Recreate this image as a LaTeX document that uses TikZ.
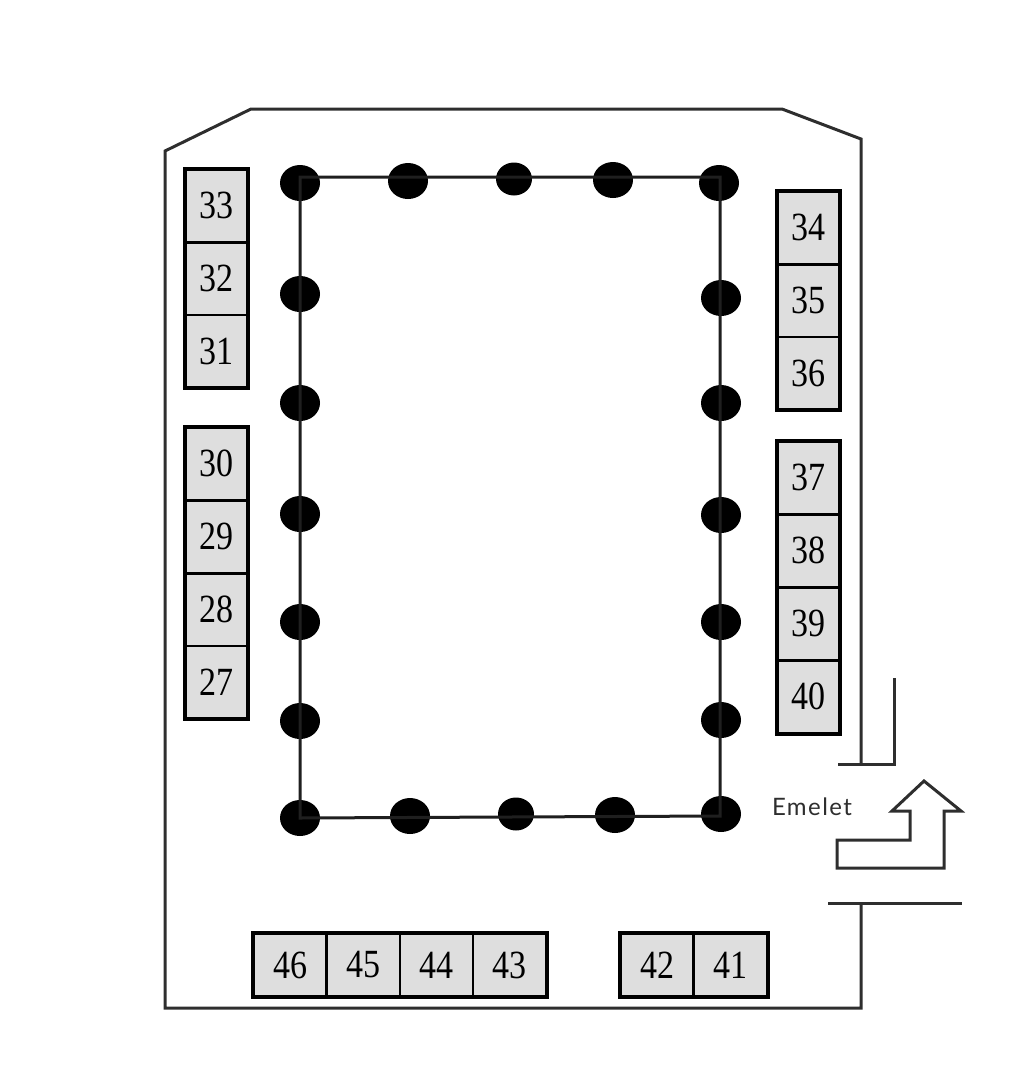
\documentclass[tikz,border=0pt]{standalone}
\usepackage{fontspec}
\setmainfont{Liberation Serif}[FakeStretch=0.85]
\newfontfamily\labelfont{Lato}[LetterSpace=6]
\usetikzlibrary{shapes.geometric,positioning}
\definecolor{wallgray}{HTML}{2E2E2E}
\definecolor{standgray}{HTML}{DEDEDE}
\begin{document}
\begin{tikzpicture}[
	%	style def
    x=1pt, y=-1pt,
    wall line/.style={line width=3pt, color=wallgray, line join=miter},
    stand/.style={draw=black, fill=standgray, line width=2.5pt, minimum width=62pt, minimum height=72.5pt, inner sep=0pt, font=\fontsize{40}{40}\selectfont},
    stand low/.style={stand, minimum width=73pt, minimum height=62pt},
    stand border/.style={draw=black, line width=3pt},
    pillar/.style={ellipse, fill=black, minimum width=40pt, minimum height=36pt, inner sep=0pt},
    pillar small/.style={pillar, minimum width=36pt, minimum height=33pt}
    ]
	\useasboundingbox (0,0) rectangle (1016,1076);

	% outer walls
	\draw[wall line] (861,765) coordinate (w1) -- (861,139) coordinate (w2) -- (782,109) coordinate (w3) -- (251,109) coordinate (w4) -- (165,151) coordinate (w5) -- (165,1008) coordinate (w6) -- (861,1008) coordinate (w7) -- (861,903) coordinate (w8);
	% entrance
	\draw[wall line] (838,764) coordinate (e1) -- (894,764) coordinate (e2) -- (894,678) coordinate (e3);
	\draw[wall line] (828,903) coordinate (e4) -- (962,903) coordinate (e5);

	% pillars
	\node[pillar] (p1) at (300,183) {};
	\node[pillar] (p2) at (408,181) {};
	\node[pillar small] (p3) at (514,179) {};
	\node[pillar] (p4) at (613,180) {};
	\node[pillar] (p5) at (719,183) {};
	\node[pillar] (p6) at (721,298) {};
	\node[pillar] (p7) at (721,403) {};
	\node[pillar] (p8) at (721,515) {};
	\node[pillar] (p9) at (721,622) {};
	\node[pillar] (p10) at (721,720) {};
	\node[pillar] (p11) at (721,814) {};
	\node[pillar] (p12) at (615,815) {};
	\node[pillar small] (p13) at (516,814) {};
	\node[pillar] (p14) at (410,816) {};
	\node[pillar] (p15) at (300,818) {};
	\node[pillar] (p16) at (300,721) {};
	\node[pillar] (p17) at (300,622) {};
	\node[pillar] (p18) at (300,514) {};
	\node[pillar] (p19) at (300,403) {};
	\node[pillar] (p20) at (300,294) {};

	% line round the pillars
	\draw[line width=3pt, color=black!88] (300,177) coordinate (r1) -- (720,177) coordinate (r2) -- (720,816) coordinate (r3) -- (300,818) coordinate (r4) -- cycle;

	% left stands
	\node[stand] (s33) at (216.5,205.5) {33};
	\node[stand] (s32) at (216.5,278.5) {32};
	\node[stand] (s31) at (216.5,351) {31};
	\draw[stand border] (s33.north west) rectangle (s31.south east);
	\node[stand] (s30) at (216.5,463.5) {30};
	\node[stand] (s29) at (216.5,536.5) {29};
	\node[stand] (s28) at (216.5,609.5) {28};
	\node[stand] (s27) at (216.5,682) {27};
	\draw[stand border] (s30.north west) rectangle (s27.south east);

	% right stands
	\node[stand] (s34) at (808.5,227.5) {34};
	\node[stand] (s35) at (808.5,300.5) {35};
	\node[stand] (s36) at (808.5,373) {36};
	\draw[stand border] (s34.north west) rectangle (s36.south east);
	\node[stand] (s37) at (808.5,477.5) {37};
	\node[stand] (s38) at (808.5,550.5) {38};
	\node[stand] (s39) at (808.5,623.5) {39};
	\node[stand] (s40) at (808.5,696.5) {40};
	\draw[stand border] (s37.north west) rectangle (s40.south east);

	% bottom stands
	\node[stand low] (s46) at (290,965) {46};
	\node[stand low] (s45) at (363.5,965) {45};
	\node[stand low] (s44) at (436.5,965) {44};
	\node[stand low] (s43) at (509.5,965) {43};
	\draw[stand border] (s46.north west) rectangle (s43.south east);
	\node[stand low] (s42) at (657,965) {42};
	\node[stand low] (s41) at (730.5,965) {41};
	\draw[stand border] (s42.north west) rectangle (s41.south east);

	% stairs
	\draw[wall line] (837,840) coordinate (a1) -- (910,840) coordinate (a2) -- (910,811) coordinate (a3) -- (892,811) coordinate (a4) -- (924,781) coordinate (a5) -- (961,811) coordinate (a6) -- (944,811) coordinate (a7) -- (944,868) coordinate (a8) -- (837,868) coordinate (a9) -- cycle;
	\node[color=wallgray, inner sep=0pt, font=\labelfont\fontsize{24}{24}\selectfont] (stairs) at (812,807) {Emelet};
\end{tikzpicture}
\end{document}
